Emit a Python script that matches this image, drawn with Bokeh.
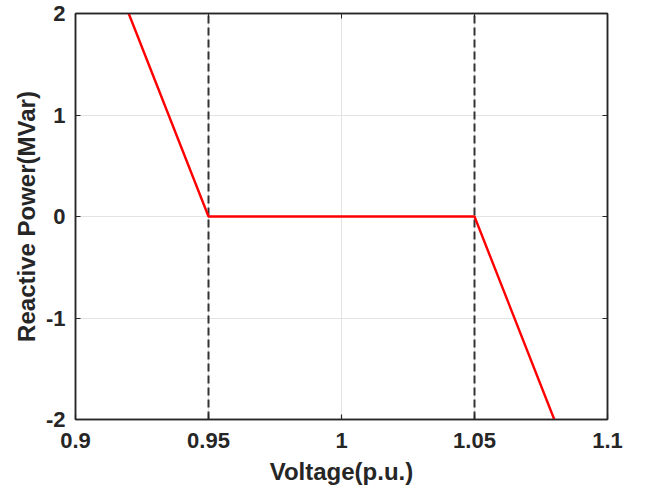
from bokeh.plotting import figure
from bokeh.models import LinearAxis, FixedTicker, Range1d
from bokeh.embed import file_html
from bokeh.resources import INLINE

# data
voltage = [0.92, 0.95, 1.05, 1.08]
reactive = [2, 0, 0, -2]
dead_band = [0.95, 1.05]
band_y = [-2, 2]
x_ticks = [0.9, 0.95, 1.0, 1.05, 1.1]
x_labels = {0.9: "0.9", 0.95: "0.95", 1.0: "1", 1.05: "1.05", 1.1: "1.1"}
y_ticks = [-2, -1, 0, 1, 2]
y_labels = {-2: "-2", -1: "-1", 0: "0", 1: "1", 2: "2"}

FONT = "Liberation Sans"
AX = "#262626"

p = figure(width=640, height=489, output_backend="svg", toolbar_location=None,
           x_range=Range1d(0.9, 1.1), y_range=Range1d(-2, 2),
           min_border_left=75, min_border_right=33, min_border_top=13, min_border_bottom=70)
p.outline_line_color = AX
p.outline_line_width = 1.5

for xv in dead_band:
    p.line([xv, xv], band_y, line_color="#333333", line_width=2, line_dash="8 4")
p.line(voltage, reactive, line_color="red", line_width=2.4)

for ax in p.xaxis:
    ax.ticker = FixedTicker(ticks=x_ticks)
    ax.major_label_overrides = x_labels
    ax.axis_label = "Voltage(p.u.)"
for ax in p.yaxis:
    ax.ticker = FixedTicker(ticks=y_ticks)
    ax.major_label_overrides = y_labels
    ax.axis_label = "Reactive Power(MVar)"

for ax in list(p.xaxis) + list(p.yaxis):
    ax.major_label_text_font = FONT
    ax.major_label_text_font_style = "bold"
    ax.major_label_text_font_size = "22px"
    ax.major_label_text_color = AX
    ax.axis_label_text_font = FONT
    ax.axis_label_text_font_style = "bold"
    ax.axis_label_text_font_size = "24px"
    ax.axis_label_text_color = AX
    ax.major_tick_in = 5
    ax.major_tick_out = 0
    ax.minor_tick_line_color = None
    ax.axis_line_color = AX
    ax.axis_line_width = 1.5
    ax.major_tick_line_color = AX
    ax.major_tick_line_width = 1.2
p.xaxis.major_label_standoff = 13
p.xaxis.axis_label_standoff = 7
p.yaxis.major_label_standoff = 10
p.yaxis.axis_label_standoff = 3

for loc in ("above", "right"):
    extra = LinearAxis(ticker=FixedTicker(ticks=x_ticks if loc == "above" else y_ticks))
    extra.major_label_text_color = None
    extra.major_label_text_font_size = "1px"
    extra.major_tick_in = 5
    extra.major_tick_out = 0
    extra.minor_tick_line_color = None
    extra.axis_line_color = AX
    extra.axis_line_width = 1.5
    extra.major_tick_line_color = AX
    p.add_layout(extra, loc)

p.xgrid.ticker = FixedTicker(ticks=x_ticks)
p.ygrid.ticker = FixedTicker(ticks=y_ticks)
p.grid.grid_line_color = "#e3e3e3"
p.grid.grid_line_width = 1

open("out.html", "w").write(file_html(p, INLINE))
